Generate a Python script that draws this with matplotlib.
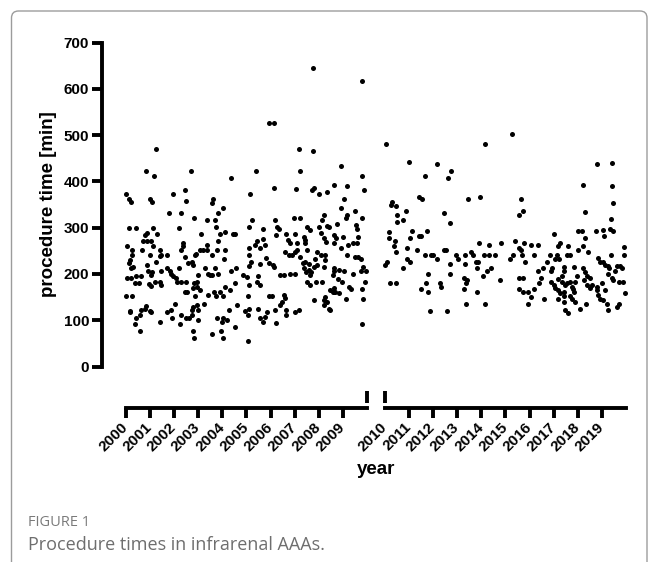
import numpy as np
import matplotlib
matplotlib.use("Agg")
import matplotlib.pyplot as plt
from matplotlib.lines import Line2D
from matplotlib.patches import FancyBboxPatch
from matplotlib.transforms import IdentityTransform

plt.rcParams['font.family'] = ['Liberation Sans', 'DejaVu Sans']

# (date as decimal year, procedure time in min)
points_2000s = [
    (2001.24, 471), (2000.85, 422), (2001.15, 412), (2002.69, 422), (2000.02, 373), (2000.13, 362),
    (2000.20, 356), (2000.99, 362), (2001.10, 356), (2001.97, 372), (2002.45, 381), (2002.49, 358),
    (2001.79, 332), (2002.30, 332), (2000.13, 300), (2000.43, 300), (2001.14, 300), (2002.22, 300),
    (2000.88, 288), (2000.78, 284), (2001.30, 286), (2000.72, 272), (2000.88, 272), (2001.05, 272),
    (2001.12, 261), (2000.05, 261), (2002.36, 266), (2002.38, 261), (2000.25, 252), (2000.26, 242),
    (2000.68, 252), (2001.40, 252), (2001.47, 242), (2001.40, 238), (2001.71, 242), (2001.01, 240),
    (2002.30, 252), (2000.16, 231), (2000.12, 223), (2000.22, 213), (2000.31, 215), (2000.88, 219),
    (2001.24, 226), (2002.44, 237), (2002.58, 223), (2001.44, 206), (2001.72, 213), (2001.82, 206),
    (2002.20, 212), (2000.06, 192), (2000.22, 192), (2000.43, 196), (2000.64, 196), (2000.37, 181),
    (2000.53, 181), (2000.92, 206), (2001.10, 205), (2001.04, 197), (2000.95, 179), (2001.05, 174),
    (2001.20, 183), (2001.41, 182), (2001.47, 176), (2001.86, 201), (2001.95, 196), (2002.08, 192),
    (2002.11, 183), (2002.30, 182), (2002.51, 182), (2002.44, 162), (2002.55, 162), (2000.02, 153),
    (2000.25, 153), (2000.18, 121), (2000.19, 117), (2000.43, 104), (2000.61, 122), (2000.59, 112),
    (2000.85, 131), (2000.78, 124), (2000.99, 120), (2001.05, 117), (2000.39, 92), (2000.59, 76),
    (2001.40, 97), (2001.72, 117), (2001.86, 122), (2002.02, 136), (2001.93, 104), (2002.23, 92),
    (2002.30, 111), (2002.51, 104), (2002.61, 104), (2002.74, 111),
    (2004.36, 407), (2005.40, 422), (2005.15, 372), (2003.63, 362), (2003.56, 353), (2004.02, 342),
    (2003.81, 332), (2002.83, 322), (2003.35, 317), (2003.70, 317), (2005.22, 317), (2005.12, 302),
    (2003.74, 302), (2003.10, 286), (2003.90, 286), (2004.11, 291), (2004.43, 286), (2004.53, 286),
    (2003.83, 272), (2005.68, 297), (2005.43, 271), (2005.36, 262), (2005.56, 257), (2005.68, 275),
    (2005.11, 257), (2003.35, 262), (2003.38, 252), (2003.21, 252), (2003.07, 252), (2002.90, 244),
    (2002.87, 241), (2003.56, 242), (2003.79, 252), (2004.11, 252), (2005.12, 242), (2005.19, 226),
    (2005.12, 218), (2002.73, 226), (2002.77, 219), (2004.08, 232), (2005.56, 222), (2003.28, 212),
    (2003.70, 212), (2003.42, 201), (2003.49, 197), (2003.59, 197), (2003.00, 197), (2002.94, 183),
    (2002.83, 180), (2002.94, 172), (2002.77, 169), (2003.82, 201), (2004.35, 206), (2004.57, 212),
    (2004.85, 197), (2005.01, 194), (2005.49, 196), (2005.43, 183), (2005.56, 176), (2005.12, 176),
    (2004.12, 172), (2004.32, 165), (2004.53, 181), (2003.07, 166), (2002.87, 152), (2003.24, 136),
    (2003.42, 155), (2003.66, 160), (2003.74, 153), (2003.90, 161), (2004.04, 153), (2005.08, 153),
    (2004.60, 133), (2004.29, 122), (2005.12, 124), (2004.94, 120), (2005.08, 112), (2005.49, 125),
    (2005.56, 104), (2005.68, 97), (2002.73, 122), (2002.80, 129), (2002.94, 133), (2003.00, 122),
    (2003.00, 100), (2003.79, 105), (2003.98, 97), (2004.18, 100), (2004.04, 104), (2004.54, 86),
    (2002.80, 76), (2002.81, 61), (2003.56, 71), (2003.93, 76), (2004.04, 61), (2005.08, 55),
    (2007.76, 645), (2005.93, 527), (2006.13, 527), (2007.17, 471), (2007.75, 466), (2007.24, 422),
    (2006.13, 386), (2007.07, 383), (2007.72, 382), (2007.79, 386), (2008.00, 372), (2008.34, 378),
    (2008.62, 392), (2006.20, 317), (2006.96, 322), (2007.24, 322), (2008.21, 327), (2008.14, 317),
    (2008.34, 303), (2008.41, 302), (2006.27, 302), (2006.37, 297), (2006.23, 285), (2007.51, 302),
    (2007.65, 295), (2006.64, 286), (2007.03, 286), (2008.00, 302), (2008.11, 288), (2008.62, 284),
    (2005.78, 262), (2006.73, 273), (2006.82, 266), (2007.10, 266), (2007.38, 280), (2007.44, 273),
    (2007.42, 266), (2008.21, 277), (2008.30, 270), (2008.62, 266), (2006.61, 247), (2006.76, 242),
    (2006.89, 242), (2007.03, 248), (2007.10, 252), (2007.51, 252), (2007.93, 248), (2008.11, 242),
    (2008.27, 242), (2005.81, 234), (2005.93, 223), (2006.09, 219), (2006.13, 216), (2007.24, 237),
    (2007.34, 223), (2007.44, 226), (2007.59, 221), (2007.86, 232), (2007.79, 216), (2007.93, 219),
    (2008.25, 230), (2008.21, 216), (2007.38, 212), (2007.59, 208), (2007.69, 205), (2007.47, 205),
    (2007.65, 197), (2006.41, 197), (2006.55, 197), (2006.82, 201), (2007.00, 201), (2008.62, 206),
    (2008.60, 197), (2007.51, 182), (2007.65, 176), (2007.90, 182), (2008.14, 182), (2008.48, 165),
    (2008.58, 160), (2008.66, 162), (2007.79, 143), (2005.93, 153), (2006.06, 153), (2006.55, 155),
    (2006.61, 149), (2006.48, 140), (2006.41, 133), (2008.27, 150), (2008.21, 143), (2008.34, 140),
    (2008.21, 133), (2008.41, 125), (2008.48, 122), (2006.20, 122), (2005.85, 118), (2005.76, 107),
    (2006.23, 93), (2006.64, 122), (2006.65, 111), (2007.03, 117), (2007.17, 122),
    (2009.81, 617), (2008.91, 433), (2009.81, 412), (2009.88, 381), (2009.19, 391), (2009.05, 362),
    (2008.91, 342), (2009.16, 327), (2009.13, 322), (2009.49, 337), (2009.81, 322), (2008.77, 307),
    (2009.54, 305), (2009.60, 297), (2008.71, 277), (2009.02, 281), (2009.63, 281), (2009.22, 262),
    (2008.91, 257), (2009.44, 267), (2009.58, 267), (2009.19, 241), (2009.49, 237), (2009.63, 237),
    (2009.74, 232), (2009.85, 216), (2009.77, 206), (2009.95, 206), (2008.63, 212), (2008.84, 208),
    (2009.05, 206), (2009.44, 201), (2008.80, 189), (2008.98, 183), (2009.26, 172), (2009.35, 167),
    (2009.91, 182), (2008.63, 169), (2008.84, 158), (2008.64, 160), (2009.12, 147), (2009.81, 167),
    (2009.85, 147), (2009.81, 91),
]

points_2010s = [
    (2010.04, 482), (2010.31, 356), (2010.27, 349), (2010.45, 347), (2010.52, 327), (2010.52, 313),
    (2010.77, 317), (2010.87, 336), (2010.17, 291), (2010.17, 277), (2010.41, 271), (2010.38, 261),
    (2010.45, 248), (2010.93, 257), (2010.91, 232), (2010.10, 226), (2010.00, 220), (2010.77, 212),
    (2010.22, 181), (2010.45, 181),
    (2010.99, 443), (2012.16, 437), (2011.68, 412), (2012.74, 422), (2012.61, 407), (2011.41, 367),
    (2011.54, 362), (2013.44, 362), (2013.95, 367), (2012.47, 332), (2012.72, 311), (2011.13, 293),
    (2011.05, 277), (2011.41, 282), (2011.51, 282), (2011.74, 293), (2011.33, 252), (2011.05, 226),
    (2011.68, 242), (2011.92, 242), (2011.99, 242), (2012.17, 232), (2012.44, 252), (2012.54, 252),
    (2012.69, 221), (2012.95, 242), (2013.02, 232), (2013.34, 242), (2013.57, 248), (2013.67, 242),
    (2013.78, 226), (2013.85, 226), (2013.92, 266), (2013.34, 221), (2011.80, 201), (2011.71, 181),
    (2011.50, 167), (2011.81, 161), (2012.29, 181), (2012.33, 172), (2012.69, 201), (2013.30, 192),
    (2013.37, 181), (2013.41, 186), (2013.30, 167), (2013.81, 212), (2013.81, 161), (2013.37, 136),
    (2011.88, 121), (2012.57, 121),
    (2015.28, 503), (2014.15, 482), (2015.66, 362), (2015.73, 336), (2015.57, 327), (2014.33, 262),
    (2014.81, 266), (2014.12, 242), (2014.33, 242), (2014.55, 242), (2014.42, 212), (2014.25, 206),
    (2014.07, 196), (2014.77, 186), (2014.17, 136), (2015.39, 272), (2015.56, 257), (2015.64, 252),
    (2015.70, 242), (2015.32, 242), (2015.21, 232), (2015.78, 266), (2015.83, 226), (2016.08, 262),
    (2016.36, 262), (2016.19, 242), (2016.84, 242), (2016.74, 226), (2016.88, 206), (2016.36, 206),
    (2016.56, 212), (2016.49, 192), (2016.39, 181), (2016.88, 182), (2015.56, 192), (2015.73, 192),
    (2015.56, 167), (2015.73, 161), (2015.94, 161), (2016.05, 151), (2016.19, 167), (2016.61, 146),
    (2015.94, 136),
    (2018.79, 437), (2019.44, 441), (2018.21, 392), (2019.41, 390), (2019.48, 353), (2018.32, 333),
    (2019.37, 318), (2017.02, 286), (2018.03, 293), (2018.17, 293), (2018.76, 293), (2019.04, 295),
    (2019.07, 283), (2019.32, 298), (2019.46, 293), (2018.28, 277), (2017.27, 266), (2017.20, 261),
    (2017.61, 261), (2018.20, 261), (2018.03, 252), (2018.42, 247), (2019.93, 259), (2019.90, 241),
    (2017.13, 242), (2017.06, 232), (2017.24, 232), (2017.54, 242), (2017.68, 242), (2019.37, 241),
    (2018.85, 235), (2018.92, 226), (2019.06, 226), (2019.13, 220), (2019.27, 218), (2019.31, 212),
    (2019.62, 218), (2019.75, 218), (2019.82, 212), (2016.92, 212), (2017.41, 216), (2017.44, 206),
    (2017.34, 196), (2017.20, 190), (2017.85, 216), (2018.21, 212), (2018.28, 204), (2018.38, 196),
    (2018.24, 186), (2018.51, 191), (2017.96, 196), (2017.68, 183), (2017.89, 182), (2017.75, 172),
    (2017.02, 176), (2017.34, 183), (2017.54, 181), (2017.48, 176), (2019.27, 201), (2019.41, 192),
    (2019.55, 206), (2019.48, 186), (2019.69, 182), (2019.87, 182), (2018.38, 176), (2018.51, 170),
    (2018.58, 176), (2018.99, 181), (2018.79, 172), (2017.06, 169), (2017.20, 165), (2017.27, 158),
    (2017.41, 162), (2018.79, 165), (2018.85, 154), (2019.13, 165), (2018.93, 147), (2019.06, 143),
    (2019.97, 158), (2017.82, 167), (2017.85, 161), (2017.20, 147), (2017.41, 153), (2017.41, 140),
    (2017.68, 153), (2017.75, 147), (2017.89, 140), (2018.35, 136), (2018.10, 125), (2019.21, 136),
    (2019.27, 122), (2019.69, 136), (2019.62, 129), (2017.48, 122), (2017.61, 115),
]

years_left = list(range(2000, 2010))
years_right = list(range(2010, 2020))
y_ticks = [0, 100, 200, 300, 400, 500, 600, 700]

W, H = 654, 562
fig = plt.figure(figsize=(W / 100, H / 100), dpi=100)

# rounded frame around the whole figure (bottom edge runs off the image)
frame = FancyBboxPatch((11.5, -30), 635.5, 581, boxstyle="round,pad=0,rounding_size=7",
                       transform=IdentityTransform(), fill=False, edgecolor='#9c9c9c', linewidth=1.0)
fig.add_artist(frame)

bottom = 1 - 366.5 / H
height = (366.5 - 42.7) / H
axL = fig.add_axes([101.7 / W, bottom, (367 - 101.7) / W, height])
axR = fig.add_axes([384.8 / W, bottom, (626 - 384.8) / W, height])

pl = np.array(points_2000s)
pr = np.array(points_2010s)
axL.scatter(pl[:, 0], pl[:, 1], s=13, c='black', linewidths=0, clip_on=False)
axR.scatter(pr[:, 0], pr[:, 1], s=13, c='black', linewidths=0, clip_on=False)

lw = 2.8
for ax in (axL, axR):
    ax.set_ylim(0, 700)
    ax.spines['top'].set_visible(False)
    ax.spines['right'].set_visible(False)
    ax.spines['bottom'].set_position(('outward', 30))
    ax.spines['bottom'].set_linewidth(lw)
    ax.tick_params(axis='x', width=lw, length=7, direction='out', pad=5)
    ax.patch.set_visible(False)

axL.set_xlim(1999, 2010)
axL.spines['bottom'].set_bounds(2000, 2010)
axL.spines['left'].set_bounds(0, 700)
axL.spines['left'].set_linewidth(lw)
axL.set_yticks(y_ticks)
axL.set_yticklabels([str(v) for v in y_ticks], fontsize=11, fontweight='bold')
axL.tick_params(axis='y', width=lw, length=7, direction='out', pad=2)

axR.set_xlim(2010, 2020)
axR.spines['bottom'].set_bounds(2010, 2020)
axR.spines['left'].set_visible(False)
axR.set_yticks([])

for ax, yrs in ((axL, years_left), (axR, years_right)):
    ax.set_xticks(yrs)
    ax.set_xticklabels([str(y) for y in yrs], rotation=45, ha='right', va='center',
                       rotation_mode='anchor', fontsize=11, fontweight='bold')
axR.xaxis.get_major_ticks()[0].tick1line.set_visible(False)

# break marks at both ends of the gap
fig.canvas.draw()
y_spine = 1 - 396.6 / H
for xpos in (axL.get_position().x1, axR.get_position().x0):
    fig.add_artist(Line2D([xpos, xpos], [y_spine - 6 / H, y_spine + 6 / H],
                          transform=fig.transFigure, color='black', linewidth=lw,
                          solid_capstyle='butt'))

fig.text(49 / W, bottom + height / 2, 'procedure time [min]', rotation=90, ha='center', va='center',
         fontsize=13.5, fontweight='bold')
fig.text(376 / W, 1 - 469 / H, 'year', ha='center', va='center', fontsize=13.5, fontweight='bold')

fig.text(28 / W, 1 - 522 / H, 'FIGURE 1', ha='left', va='center', fontsize=10.5,
         color='#7a7a7a', family=['Open Sans', 'DejaVu Sans'])
fig.text(28 / W, 1 - 545 / H, 'Procedure times in infrarenal AAAs.', ha='left', va='center',
         fontsize=13, color='#6e6e6e', family=['Open Sans', 'DejaVu Sans'])

fig.savefig('out.png', dpi=100)
